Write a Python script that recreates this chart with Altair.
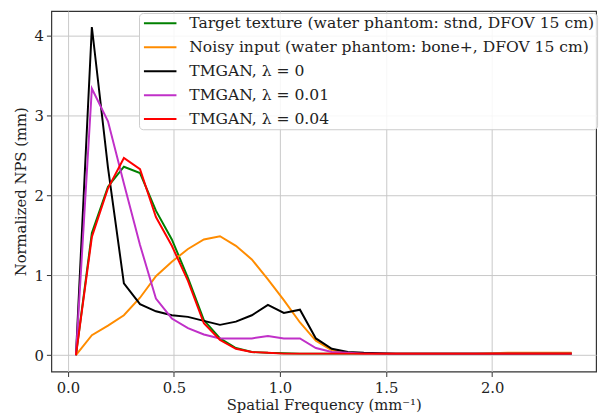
import altair as alt
import pandas as pd

freq = [0.038, 0.113, 0.189, 0.264, 0.340, 0.415, 0.490, 0.566, 0.641, 0.717,
        0.792, 0.867, 0.943, 1.018, 1.094, 1.169, 1.244, 1.320, 1.395, 1.471,
        1.546, 1.621, 1.697, 1.772, 1.848, 1.923, 1.998, 2.074, 2.149, 2.225,
        2.300, 2.375]

target = [0, 1.53, 2.11, 2.36, 2.28, 1.81, 1.45, 0.97, 0.44, 0.21,
          0.09, 0.04, 0.03, 0.025, 0.02, 0.02, 0.02, 0.02, 0.02, 0.02,
          0.02, 0.02, 0.02, 0.02, 0.02, 0.02, 0.02, 0.02, 0.02, 0.02,
          0.02, 0.02]
noisy = [0, 0.25, 0.37, 0.50, 0.72, 0.99, 1.17, 1.33, 1.45, 1.49,
         1.37, 1.20, 0.95, 0.69, 0.41, 0.18, 0.06, 0.03, 0.02, 0.02,
         0.02, 0.02, 0.02, 0.02, 0.02, 0.02, 0.025, 0.03, 0.03, 0.03,
         0.03, 0.03]
tm0 = [0, 4.11, 2.35, 0.90, 0.64, 0.55, 0.50, 0.48, 0.43, 0.38,
       0.42, 0.50, 0.63, 0.53, 0.57, 0.21, 0.08, 0.04, 0.03, 0.025,
       0.02, 0.02, 0.02, 0.02, 0.02, 0.02, 0.02, 0.02, 0.02, 0.02,
       0.02, 0.02]
tm001 = [0, 3.34, 2.93, 2.15, 1.38, 0.71, 0.46, 0.34, 0.26, 0.21,
         0.21, 0.21, 0.24, 0.21, 0.21, 0.09, 0.04, 0.03, 0.02, 0.02,
         0.02, 0.02, 0.02, 0.02, 0.02, 0.02, 0.02, 0.02, 0.02, 0.02,
         0.02, 0.02]
tm004 = [0, 1.48, 2.09, 2.47, 2.33, 1.73, 1.37, 0.93, 0.40, 0.19,
         0.08, 0.04, 0.03, 0.02, 0.02, 0.02, 0.02, 0.02, 0.02, 0.02,
         0.02, 0.02, 0.02, 0.02, 0.02, 0.02, 0.02, 0.02, 0.02, 0.02,
         0.02, 0.02]

names = [
    "Target texture (water phantom: stnd, DFOV 15 cm)",
    "Noisy input (water phantom: bone+, DFOV 15 cm)",
    "TMGAN, λ = 0",
    "TMGAN, λ = 0.01",
    "TMGAN, λ = 0.04",
]
colors = ["#008000", "#ff8c00", "#000000", "#c030c8", "#ff0000"]
series = [target, noisy, tm0, tm001, tm004]

rows = []
for n, vals in zip(names, series):
    for f, v in zip(freq, vals):
        rows.append({"series": n, "f": f, "nps": v})
df = pd.DataFrame(rows)

FONT = "DejaVu Serif"

xenc = alt.X("f:Q", scale=alt.Scale(domain=[-0.078, 2.49], nice=False, zero=False),
             axis=alt.Axis(values=[0, 0.5, 1.0, 1.5, 2.0], format=".1f",
                           title="Spatial Frequency (mm⁻¹)", labelPadding=4,
                           titlePadding=2))
yenc = alt.Y("nps:Q", scale=alt.Scale(domain=[-0.205, 4.31], nice=False, zero=False),
             axis=alt.Axis(values=[0, 1, 2, 3, 4], format="d",
                           title="Normalized NPS (mm)"))
cenc = alt.Color("series:N", scale=alt.Scale(domain=names, range=colors),
                 legend=alt.Legend(title=None, orient="none", legendX=89, legendY=2,
                                   symbolType="M-2.2,0H2.2", symbolSize=225,
                                   symbolOffset=11,
                                   symbolStrokeWidth=2, labelFontSize=15.8,
                                   labelFont=FONT, labelLimit=600, labelOffset=21,
                                   rowPadding=7.3, padding=2,
                                   fillColor="rgba(255,255,255,0.85)",
                                   strokeColor="#cccccc", cornerRadius=4,
                                   labelColor="#222222"))

layers = []
for n in names:
    layers.append(
        alt.Chart(df).transform_filter(alt.datum.series == n)
        .mark_line(strokeWidth=2, clip=True)
        .encode(x=xenc, y=yenc, color=cenc)
    )

chart = alt.layer(*layers).properties(
    width=553, height=366,
    padding={"left": 5, "top": 0, "right": 5, "bottom": 0},
).configure_view(
    stroke="#333333", strokeWidth=1.2
).configure_axis(
    labelFont=FONT, titleFont=FONT, labelFontSize=15, titleFontSize=15,
    titleFontWeight="normal", labelColor="#222222", titleColor="#222222",
    domain=False, tickColor="#333333", tickSize=5, labelPadding=3,
    gridColor="#c8c8c8", gridWidth=1, titlePadding=6,
)

chart.save("out.html", embed_options={"renderer": "svg", "actions": False})
